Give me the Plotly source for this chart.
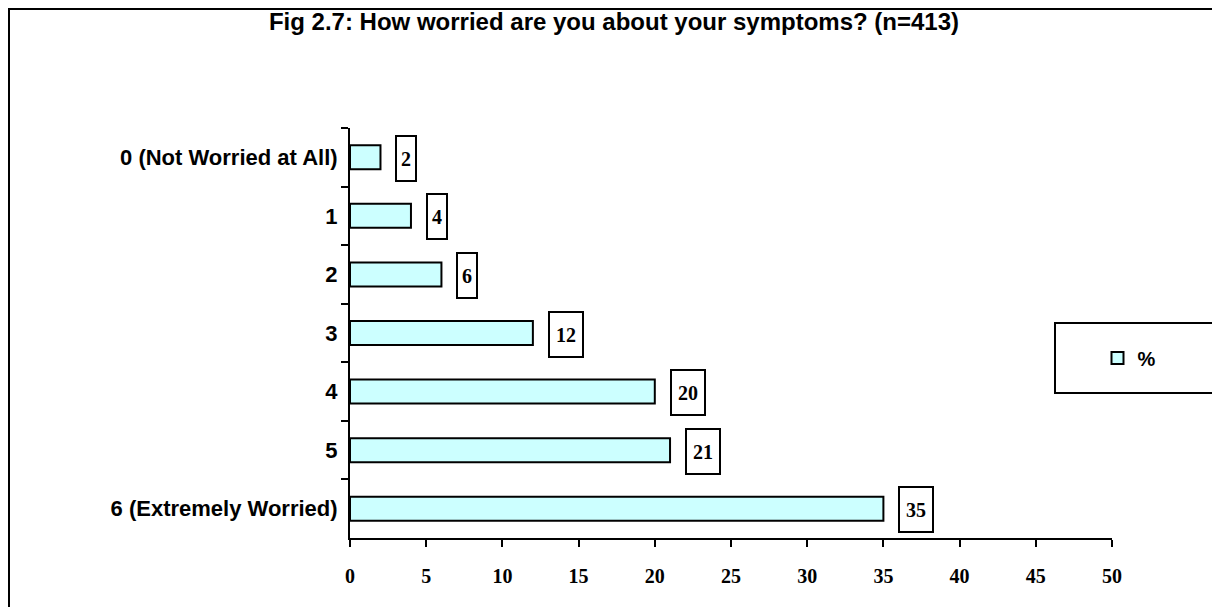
import plotly.graph_objects as go

categories = ["0 (Not Worried at All)", "1", "2", "3", "4", "5", "6 (Extremely Worried)"]
percent = [2, 4, 6, 12, 20, 21, 35]
x_ticks = [0, 5, 10, 15, 20, 25, 30, 35, 40, 45, 50]

# page has an 8px body margin, so the figure is sized to fit inside it
W, H = 1212, 599
L, R, T, B = 342, 108, 120, 69
pw, ph = W - L - R, H - T - B

def px_x(x):
    return (x - L) / pw

def px_y(y):
    return (H - B - y) / ph

fig = go.Figure()
fig.add_trace(go.Bar(
    y=categories, x=percent, orientation="h", name="%",
    marker=dict(color="#ccffff", line=dict(color="black", width=2)),
    width=0.41,
))

for c, v in zip(categories, percent):
    fig.add_annotation(
        x=v, y=c, xref="x", yref="y", text=str(v), showarrow=False,
        xanchor="left", xshift=15, yshift=-1,
        width=2 + 14 * len(str(v)), height=41,
        bordercolor="black", borderwidth=2, borderpad=1, bgcolor="white",
        font=dict(family="Liberation Serif", size=20, color="black", weight="bold"),
    )

# outer frame and legend box
fig.add_shape(type="rect", xref="paper", yref="paper",
              x0=px_x(1), x1=px_x(1209), y0=px_y(620), y1=px_y(1),
              line=dict(color="black", width=2))
fig.add_shape(type="rect", xref="paper", yref="paper",
              x0=px_x(1047), x1=px_x(1207), y0=px_y(385), y1=px_y(315),
              line=dict(color="black", width=2))

fig.update_layout(
    width=W, height=H,
    margin=dict(l=L, r=R, t=T, b=B),
    paper_bgcolor="white", plot_bgcolor="white",
    title=dict(text="Fig 2.7: How worried are you about your symptoms? (n=413)",
               x=0.5, xref="container", xanchor="center", y=1 - 14 / H, yanchor="middle",
               font=dict(family="Liberation Sans", size=24, color="black", weight="bold")),
    showlegend=True,
    legend=dict(x=px_x(1121), y=px_y(350), xanchor="center", yanchor="middle",
                bgcolor="rgba(0,0,0,0)", borderwidth=0,
                font=dict(family="Liberation Sans", size=20, color="black", weight="bold"),
                itemwidth=30),
    bargap=0.59,
)
fig.update_xaxes(
    range=[0, 50], tickvals=x_ticks, showgrid=False, zeroline=False,
    showline=True, linecolor="black", linewidth=2,
    ticks="outside", ticklen=7, tickwidth=2, tickcolor="black",
    ticklabelstandoff=12,
    tickfont=dict(family="Liberation Serif", size=20, color="black", weight="bold"),
)
fig.update_yaxes(
    autorange="reversed", showgrid=False, showline=True, linecolor="black", linewidth=2,
    ticks="outside", ticklen=7, tickwidth=2, tickcolor="black", tickson="boundaries",
    ticklabelstandoff=6,
    tickfont=dict(family="Liberation Sans", size=22, color="black", weight="bold"),
)

fig.write_html("out.html")
